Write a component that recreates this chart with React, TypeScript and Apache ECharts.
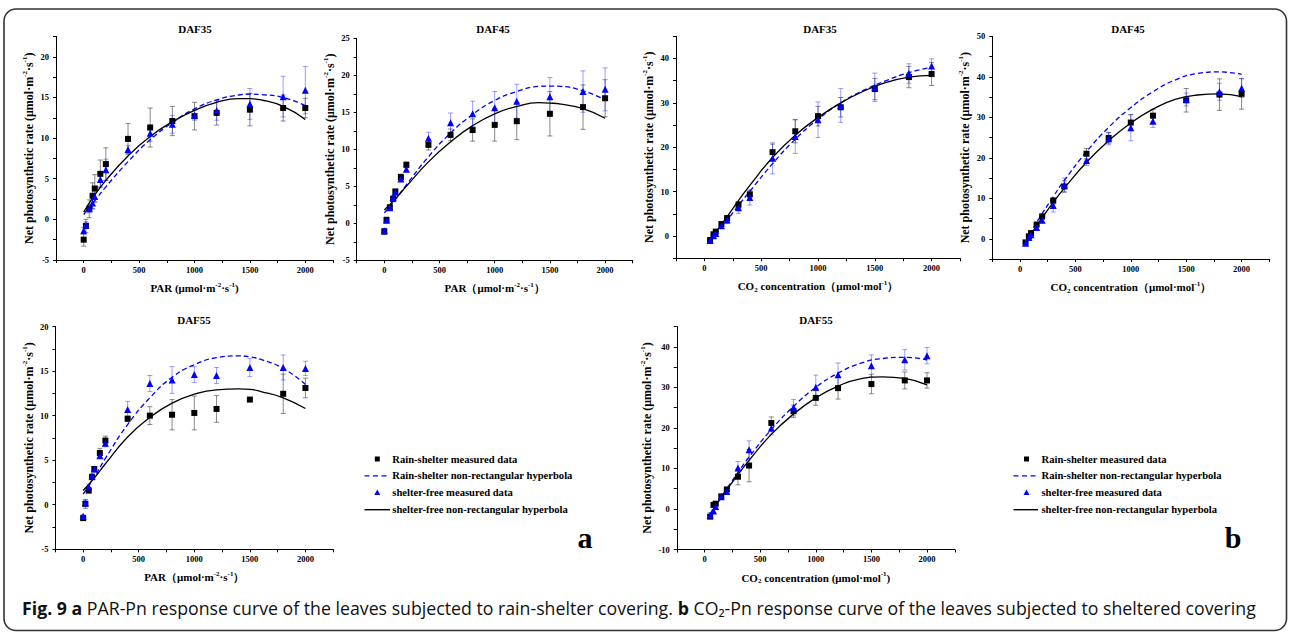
import React, { useEffect, useRef } from 'react';
import * as echarts from 'echarts';

// ---------- data ----------
const PAR_X = [0, 20, 50, 80, 100, 150, 200, 400, 600, 800, 1000, 1200, 1500, 1800, 2000];
const CO2_X = [50, 80, 100, 150, 200, 300, 400, 600, 800, 1000, 1200, 1500, 1800, 2000];
const PAR_FIT_X = [0, 100, 200, 400, 600, 800, 1000, 1200, 1400, 1500, 1600, 1800, 2000];
const CO2_FIT_X = [50, 100, 200, 300, 400, 600, 800, 1000, 1200, 1400, 1600, 1800, 2000];

const TITLES = ['DAF35', 'DAF45', 'DAF35', 'DAF45', 'DAF55', 'DAF55'];
const LEGEND_NAMES = [
  'Rain-shelter measured data',
  'Rain-shelter non-rectangular hyperbola',
  'shelter-free measured data',
  'shelter-free non-rectangular hyperbola',
];

// PAR DAF35
const P1_SQ = [-2.5, -0.8, 1.3, 2.9, 3.8, 5.6, 6.8, 9.9, 11.3, 12.1, 12.7, 13.1, 13.5, 13.7, 13.7];
const P1_SQ_ERR = [0.8, 0.8, 1.1, 1.6, 1.7, 1.7, 2.0, 1.9, 2.4, 1.8, 1.7, 1.5, 2.0, 1.6, 1.2];
const P1_TRI = [-1.4, -0.7, 1.3, 2.0, 2.8, 4.9, 6.1, 8.6, 10.6, 11.7, 12.8, 13.4, 14.2, 15.1, 15.9];
const P1_TRI_ERR = [0.4, 0.4, 0.5, 0.7, 0.6, 0.9, 1.3, 0.5, 1.0, 1.1, 0.6, 1.2, 1.9, 2.5, 2.9];
const P1_FIT_BLUE = [0.6, 2.3, 4.0, 7.1, 9.8, 11.9, 13.6, 14.7, 15.3, 15.4, 15.35, 15.0, 14.0];
const P1_FIT_BLACK = [0.9, 3.0, 4.8, 7.8, 10.2, 12.0, 13.4, 14.4, 14.85, 14.85, 14.7, 13.9, 12.3];

// PAR DAF45
const P2_SQ = [-1.1, 0.45, 2.15, 3.3, 4.3, 6.25, 7.9, 10.6, 11.95, 12.6, 13.3, 13.8, 14.8, 15.7, 16.9];
const P2_SQ_ERR = [0.4, 0.4, 0.4, 0.4, 0.3, 0.4, 0.4, 0.7, 0.8, 1.5, 2.2, 2.5, 3.0, 3.0, 2.5];
const P2_TRI = [-1.0, 0.4, 2.1, 3.5, 4.2, 6.0, 7.3, 11.5, 13.6, 14.8, 15.6, 16.5, 17.1, 17.8, 18.1];
const P2_TRI_ERR = [0.3, 0.3, 0.3, 0.3, 0.3, 0.3, 0.3, 0.8, 1.3, 1.7, 2.2, 2.3, 2.6, 2.8, 2.9];
const P2_FIT_BLUE = [1.4, 3.2, 5.2, 9.0, 12.2, 14.7, 16.6, 17.8, 18.5, 18.55, 18.5, 17.9, 16.7];
const P2_FIT_BLACK = [1.8, 3.3, 5.0, 8.3, 11.0, 13.2, 14.8, 15.8, 16.3, 16.25, 16.1, 15.5, 14.2];

// CO2 DAF35
const P3_SQ = [-0.9, 0.4, 1.0, 2.7, 4.05, 7.05, 9.4, 18.9, 23.6, 27.0, 29.0, 33.1, 35.8, 36.5];
const P3_SQ_ERR = [0.3, 0.3, 0.3, 0.5, 0.6, 0.7, 0.8, 1.8, 2.6, 2.2, 2.2, 2.4, 2.4, 2.6];
const P3_TRI = [-1.0, 0.1, 0.6, 2.3, 3.6, 6.4, 8.7, 17.5, 22.4, 26.2, 29.4, 33.5, 36.6, 38.3];
const P3_TRI_ERR = [0.3, 0.4, 0.4, 0.6, 0.8, 1.3, 1.7, 3.5, 3.8, 4.0, 3.8, 3.2, 2.2, 1.6];
const P3_FIT_BLUE = [-1.2, 0.4, 3.6, 6.9, 10.1, 16.3, 21.8, 26.3, 30.0, 32.8, 35.0, 36.8, 38.0];
const P3_FIT_BLACK = [-0.9, 0.9, 4.4, 8.0, 11.4, 17.7, 22.7, 26.7, 30.0, 32.6, 34.6, 35.8, 36.2];

// CO2 DAF45
const P4_SQ = [-0.9, 0.6, 1.4, 3.5, 5.5, 9.4, 12.9, 21.0, 24.9, 28.7, 30.4, 34.2, 35.6, 35.8];
const P4_SQ_ERR = [0.3, 0.3, 0.3, 0.5, 0.6, 0.8, 1.4, 1.3, 1.3, 2.0, 1.6, 2.9, 3.9, 3.8];
const P4_TRI = [-1.1, 0.3, 1.0, 2.8, 4.6, 8.2, 13.3, 19.3, 24.7, 27.4, 29.0, 34.4, 36.3, 37.2];
const P4_TRI_ERR = [0.3, 0.4, 0.4, 0.5, 0.7, 1.6, 1.7, 1.2, 1.5, 3.2, 1.5, 1.6, 2.1, 2.3];
const P4_FIT_BLUE = [-0.8, 1.7, 6.2, 10.4, 14.4, 21.5, 27.5, 32.4, 36.3, 39.2, 40.8, 41.2, 40.6];
const P4_FIT_BLACK = [-0.9, 1.2, 5.2, 9.0, 12.5, 18.9, 24.2, 28.6, 32.0, 34.4, 35.5, 35.8, 35.1];

// PAR DAF55
const P5_SQ = [-1.5, 0.1, 1.6, 3.1, 4.0, 5.8, 7.2, 9.65, 10.0, 10.1, 10.3, 10.75, 11.8, 12.45, 13.1];
const P5_SQ_ERR = [0.2, 0.5, 0.3, 0.3, 0.3, 0.5, 0.5, 0.3, 1.0, 1.7, 1.9, 1.5, 0.2, 2.2, 1.1];
const P5_TRI = [-1.3, 0.2, 2.0, 3.2, 4.0, 5.5, 6.9, 10.7, 13.6, 14.0, 14.6, 14.5, 15.4, 15.4, 15.3];
const P5_TRI_ERR = [0.2, 0.3, 0.3, 0.3, 0.3, 0.3, 0.4, 0.9, 0.9, 1.5, 0.9, 0.9, 1.0, 1.4, 0.8];
const P5_FIT_BLUE = [1.2, 3.1, 5.2, 9.0, 12.0, 14.3, 15.7, 16.5, 16.7, 16.6, 16.3, 15.3, 13.5];
const P5_FIT_BLACK = [1.6, 3.0, 4.6, 7.6, 9.8, 11.4, 12.4, 12.9, 13.0, 12.95, 12.7, 12.0, 10.8];

// CO2 DAF55
const P6_SQ = [-1.9, 1.0, 1.3, 3.1, 4.8, 7.95, 10.7, 21.2, 24.1, 27.4, 29.8, 30.8, 31.7, 31.7];
const P6_SQ_ERR = [0.3, 0.3, 0.3, 0.4, 0.5, 2.0, 4.0, 1.5, 1.5, 1.8, 2.7, 2.4, 2.1, 1.9];
const P6_TRI = [-1.5, -0.5, 0.6, 3.0, 4.3, 10.1, 14.6, 19.9, 25.0, 30.0, 33.1, 35.3, 36.8, 37.8];
const P6_TRI_ERR = [0.6, 0.4, 0.4, 0.4, 0.5, 1.6, 2.2, 1.6, 2.0, 3.0, 2.9, 2.7, 2.5, 2.0];
const P6_FIT_BLUE = [-1.3, 1.0, 5.0, 9.0, 12.8, 19.6, 25.3, 30.0, 33.5, 35.9, 37.1, 37.4, 36.8];
const P6_FIT_BLACK = [-1.5, 0.8, 4.7, 8.5, 12.0, 18.4, 23.4, 27.4, 30.3, 32.1, 32.6, 32.2, 30.6];

const CAPTION_BOLD_1 = 'Fig. 9 a';
const CAPTION_TEXT_1 = ' PAR-Pn response curve of the leaves subjected to rain-shelter covering. ';
const CAPTION_BOLD_2 = 'b';
const CAPTION_TEXT_2 = ' CO₂-Pn response curve of the leaves subjected to sheltered covering';

// ---------- styling / layout ----------
const SERIF = 'Liberation Serif';
const CAPTION_FONT = 'Open Sans';
const BLUE = '#0000ff';
const BLACK = '#000000';

const range = (a: number, b: number, s: number) => {
  const out: number[] = [];
  for (let v = a; v <= b + 1e-9; v += s) out.push(Math.round(v * 100) / 100);
  return out;
};

const PAR_NAME = 'PAR（μmol·m{sup|-2}·s{sup|-1}）';
const CO2_NAME = 'CO{sub|2} concentration（μmol·mol{sup|-1}）';

const panels = [
  { grid: { left: 56, top: 36.5, width: 277, height: 223.5 }, par: true, ymin: -5, ymax: 22.5, ylab: range(-5, 20, 5), ytick: range(-5, 22.5, 2.5), title: [195, 29],
    sq: P1_SQ, sqErr: P1_SQ_ERR, tri: P1_TRI, triErr: P1_TRI_ERR, fitBlue: P1_FIT_BLUE, fitBlack: P1_FIT_BLACK, xname: 'PAR (μmol·m{sup|-2}·s{sup|-1})' },
  { grid: { left: 356.7, top: 38.3, width: 276, height: 222 }, par: true, ymin: -5, ymax: 25, ylab: range(-5, 25, 5), ytick: range(-5, 25, 2.5), title: [493, 29],
    sq: P2_SQ, sqErr: P2_SQ_ERR, tri: P2_TRI, triErr: P2_TRI_ERR, fitBlue: P2_FIT_BLUE, fitBlack: P2_FIT_BLACK, xname: PAR_NAME },
  { grid: { left: 676, top: 36.2, width: 284, height: 222.1 }, par: false, ymin: -5, ymax: 45, ylab: range(0, 40, 10), ytick: range(-5, 45, 5), title: [820, 29],
    sq: P3_SQ, sqErr: P3_SQ_ERR, tri: P3_TRI, triErr: P3_TRI_ERR, fitBlue: P3_FIT_BLUE, fitBlack: P3_FIT_BLACK, xname: CO2_NAME },
  { grid: { left: 992.3, top: 36.3, width: 277, height: 222.7 }, par: false, ymin: -5, ymax: 50, ylab: range(0, 50, 10), ytick: range(-5, 50, 5), title: [1128, 29],
    sq: P4_SQ, sqErr: P4_SQ_ERR, tri: P4_TRI, triErr: P4_TRI_ERR, fitBlue: P4_FIT_BLUE, fitBlack: P4_FIT_BLACK, xname: CO2_NAME },
  { grid: { left: 55.4, top: 326.5, width: 277.8, height: 222.8 }, par: true, ymin: -5, ymax: 20, ylab: range(-5, 20, 5), ytick: range(-5, 20, 2.5), title: [194, 320],
    sq: P5_SQ, sqErr: P5_SQ_ERR, tri: P5_TRI, triErr: P5_TRI_ERR, fitBlue: P5_FIT_BLUE, fitBlack: P5_FIT_BLACK, xname: PAR_NAME },
  { grid: { left: 676.8, top: 326.5, width: 278, height: 223 }, par: false, ymin: -10, ymax: 45, ylab: range(-10, 40, 10), ytick: range(-10, 45, 5), title: [816, 320],
    sq: P6_SQ, sqErr: P6_SQ_ERR, tri: P6_TRI, triErr: P6_TRI_ERR, fitBlue: P6_FIT_BLUE, fitBlack: P6_FIT_BLACK, xname: 'CO{sub|2} concentration (μmol·mol{sup|-1})' },
];

// legend blocks: icon centre x, line start/end x, text x, first row y
const legendBlocks = [
  { cx: 377.3, lx1: 364.5, lx2: 390, tx: 392.3, y0: 459 },
  { cx: 1026.5, lx1: 1013.5, lx2: 1038, tx: 1041.5, y0: 459 },
];
const LEGEND_ROW_GAP = 16.9;

const makeNameStyle = (size: number) => ({
  fontFamily: SERIF,
  fontWeight: 'bold',
  fontSize: size,
  color: '#000',
  lineHeight: size + 3,
  rich: {
    sup: { fontFamily: SERIF, fontWeight: 'bold', fontSize: 7, color: '#000', verticalAlign: 'top', lineHeight: 8 },
    sub: { fontFamily: SERIF, fontWeight: 'bold', fontSize: 7, color: '#000', verticalAlign: 'bottom', lineHeight: 8 },
  },
});

const labelStyle = { fontFamily: SERIF, fontWeight: 'bold', fontSize: 8.5, color: '#000' };

function errorSeries(i: number, xs: number[], ys: number[], errs: number[], color: string) {
  return {
    type: 'custom',
    xAxisIndex: i,
    yAxisIndex: i,
    silent: true,
    z: 1,
    data: xs.map((x, k) => [x, ys[k], errs[k]]),
    encode: { x: 0, y: 1 },
    renderItem: (params: any, api: any) => {
      const x = api.value(0);
      const y = api.value(1);
      const e = api.value(2);
      const p1 = api.coord([x, y + e]);
      const p2 = api.coord([x, y - e]);
      const w = 2.5;
      const style = { stroke: color, lineWidth: 1 };
      return {
        type: 'group',
        children: [
          { type: 'line', shape: { x1: p1[0], y1: p1[1], x2: p2[0], y2: p2[1] }, style },
          { type: 'line', shape: { x1: p1[0] - w, y1: p1[1], x2: p1[0] + w, y2: p1[1] }, style },
          { type: 'line', shape: { x1: p2[0] - w, y1: p2[1], x2: p2[0] + w, y2: p2[1] }, style },
        ],
      };
    },
  };
}

function buildOption() {
  const grid: any[] = [];
  const xAxis: any[] = [];
  const yAxis: any[] = [];
  const series: any[] = [];
  const graphic: any[] = [];

  panels.forEach((p, i) => {
    const xs = p.par ? PAR_X : CO2_X;
    const fx = p.par ? PAR_FIT_X : CO2_FIT_X;
    grid.push({ ...p.grid, containLabel: false, outerBoundsMode: 'none' });
    xAxis.push({
      gridIndex: i,
      type: 'value',
      min: -250,
      max: 2250,
      name: p.xname,
      nameLocation: 'middle',
      nameGap: 21,
      nameTextStyle: makeNameStyle(11),
      axisLine: { show: true, onZero: false, lineStyle: { color: '#000', width: 1 } },
      axisTick: { show: true, inside: false, length: 3, customValues: range(-250, 2250, 250), lineStyle: { color: '#000' } },
      axisLabel: { show: true, customValues: range(0, 2000, 500), margin: 5, formatter: (v: number) => String(v), ...labelStyle },
      splitLine: { show: false },
    });
    yAxis.push({
      gridIndex: i,
      type: 'value',
      min: p.ymin,
      max: p.ymax,
      name: 'Net photosynthetic rate (μmol·m{sup|-2}·s{sup|-1})',
      nameLocation: 'middle',
      nameRotate: 90,
      nameGap: 17.5,
      nameTextStyle: makeNameStyle(12),
      axisLine: { show: true, onZero: false, lineStyle: { color: '#000', width: 1 } },
      axisTick: { show: true, inside: false, length: 3, customValues: p.ytick, lineStyle: { color: '#000' } },
      axisLabel: { show: true, customValues: p.ylab, margin: 7, formatter: (v: number) => String(v), ...labelStyle },
      splitLine: { show: false },
    });

    series.push(errorSeries(i, xs, p.sq, p.sqErr, 'rgba(60,60,60,0.6)'));
    series.push(errorSeries(i, xs, p.tri, p.triErr, 'rgba(40,40,255,0.45)'));
    series.push({
      name: LEGEND_NAMES[1],
      type: 'line',
      xAxisIndex: i,
      yAxisIndex: i,
      smooth: true,
      symbol: 'none',
      showSymbol: false,
      z: 2,
      lineStyle: { color: BLUE, width: 1.3, type: [5, 3] },
      itemStyle: { color: BLUE },
      data: fx.map((x, k) => [x, p.fitBlue[k]]),
    });
    series.push({
      name: LEGEND_NAMES[3],
      type: 'line',
      xAxisIndex: i,
      yAxisIndex: i,
      smooth: true,
      symbol: 'none',
      showSymbol: false,
      z: 2,
      lineStyle: { color: BLACK, width: 1.3, type: 'solid' },
      itemStyle: { color: BLACK },
      data: fx.map((x, k) => [x, p.fitBlack[k]]),
    });
    series.push({
      name: LEGEND_NAMES[0],
      type: 'scatter',
      xAxisIndex: i,
      yAxisIndex: i,
      symbol: 'rect',
      symbolSize: 6,
      z: 3,
      itemStyle: { color: BLACK, opacity: 1 },
      data: xs.map((x, k) => [x, p.sq[k]]),
    });
    series.push({
      name: LEGEND_NAMES[2],
      type: 'scatter',
      xAxisIndex: i,
      yAxisIndex: i,
      symbol: 'triangle',
      symbolSize: 7,
      z: 4,
      itemStyle: { color: BLUE, opacity: 1 },
      data: xs.map((x, k) => [x, p.tri[k]]),
    });

    graphic.push({
      type: 'text',
      x: p.title[0],
      y: p.title[1],
      style: { text: TITLES[i], fontFamily: SERIF, fontWeight: 'bold', fontSize: 11, fill: '#000', align: 'center', verticalAlign: 'middle' },
    });
  });

  // legends (drawn as graphic so the icons match the original)
  legendBlocks.forEach((b) => {
    const ys = [0, 1, 2, 3].map((r) => b.y0 + r * LEGEND_ROW_GAP);
    graphic.push({ type: 'rect', shape: { x: b.cx - 2.5, y: ys[0] - 2.5, width: 5, height: 5 }, style: { fill: BLACK } });
    graphic.push({ type: 'line', shape: { x1: b.lx1, y1: ys[1], x2: b.lx2, y2: ys[1] }, style: { stroke: BLUE, lineWidth: 1.4, lineDash: [5, 3.5] } });
    graphic.push({ type: 'polygon', shape: { points: [[b.cx, ys[2] - 3.2], [b.cx + 3, ys[2] + 2.2], [b.cx - 3, ys[2] + 2.2]] }, style: { fill: BLUE } });
    graphic.push({ type: 'line', shape: { x1: b.lx1, y1: ys[3], x2: b.lx2, y2: ys[3] }, style: { stroke: BLACK, lineWidth: 1.4 } });
    LEGEND_NAMES.forEach((n, r) => {
      graphic.push({
        type: 'text',
        x: b.tx,
        y: ys[r],
        style: { text: n, fontFamily: SERIF, fontWeight: 'bold', fontSize: 10.6, fill: '#000', align: 'left', verticalAlign: 'middle' },
      });
    });
  });

  graphic.push({
    type: 'rect',
    shape: { x: 4, y: 9, width: 1282.5, height: 621.5, r: 12 },
    style: { fill: 'none', stroke: '#333', lineWidth: 1.6 },
    z: 0,
  });
  graphic.push({
    type: 'text',
    x: 585,
    y: 537,
    style: { text: 'a', fontFamily: SERIF, fontWeight: 'bold', fontSize: 30, fill: '#000', align: 'center', verticalAlign: 'middle' },
  });
  graphic.push({
    type: 'text',
    x: 1233,
    y: 537,
    style: { text: 'b', fontFamily: SERIF, fontWeight: 'bold', fontSize: 30, fill: '#000', align: 'center', verticalAlign: 'middle' },
  });
  graphic.push({
    type: 'text',
    x: 22,
    y: 608,
    scaleX: 0.985,
    style: {
      text: '{b|' + CAPTION_BOLD_1 + '}' + CAPTION_TEXT_1 + '{b|' + CAPTION_BOLD_2 + '}' + CAPTION_TEXT_2,
      fontFamily: CAPTION_FONT,
      fontSize: 18,
      fill: '#111',
      align: 'left',
      verticalAlign: 'middle',
      rich: { b: { fontFamily: CAPTION_FONT, fontSize: 18, fontWeight: 'bold', fill: '#111' } },
    },
  });

  return {
    animation: false,
    backgroundColor: '#fff',
    textStyle: { fontFamily: SERIF },
    grid,
    xAxis,
    yAxis,
    series,
    graphic,
  };
}

export default function App() {
  const ref = useRef<HTMLDivElement>(null);
  useEffect(() => {
    const chart = echarts.init(ref.current as HTMLDivElement, null, { renderer: 'svg' });
    chart.setOption(buildOption() as any);
    return () => chart.dispose();
  }, []);
  return (
    <div
      ref={ref}
      style={{ position: 'fixed', left: 0, top: 0, width: 1290, height: 632, background: '#fff' }}
    />
  );
}
